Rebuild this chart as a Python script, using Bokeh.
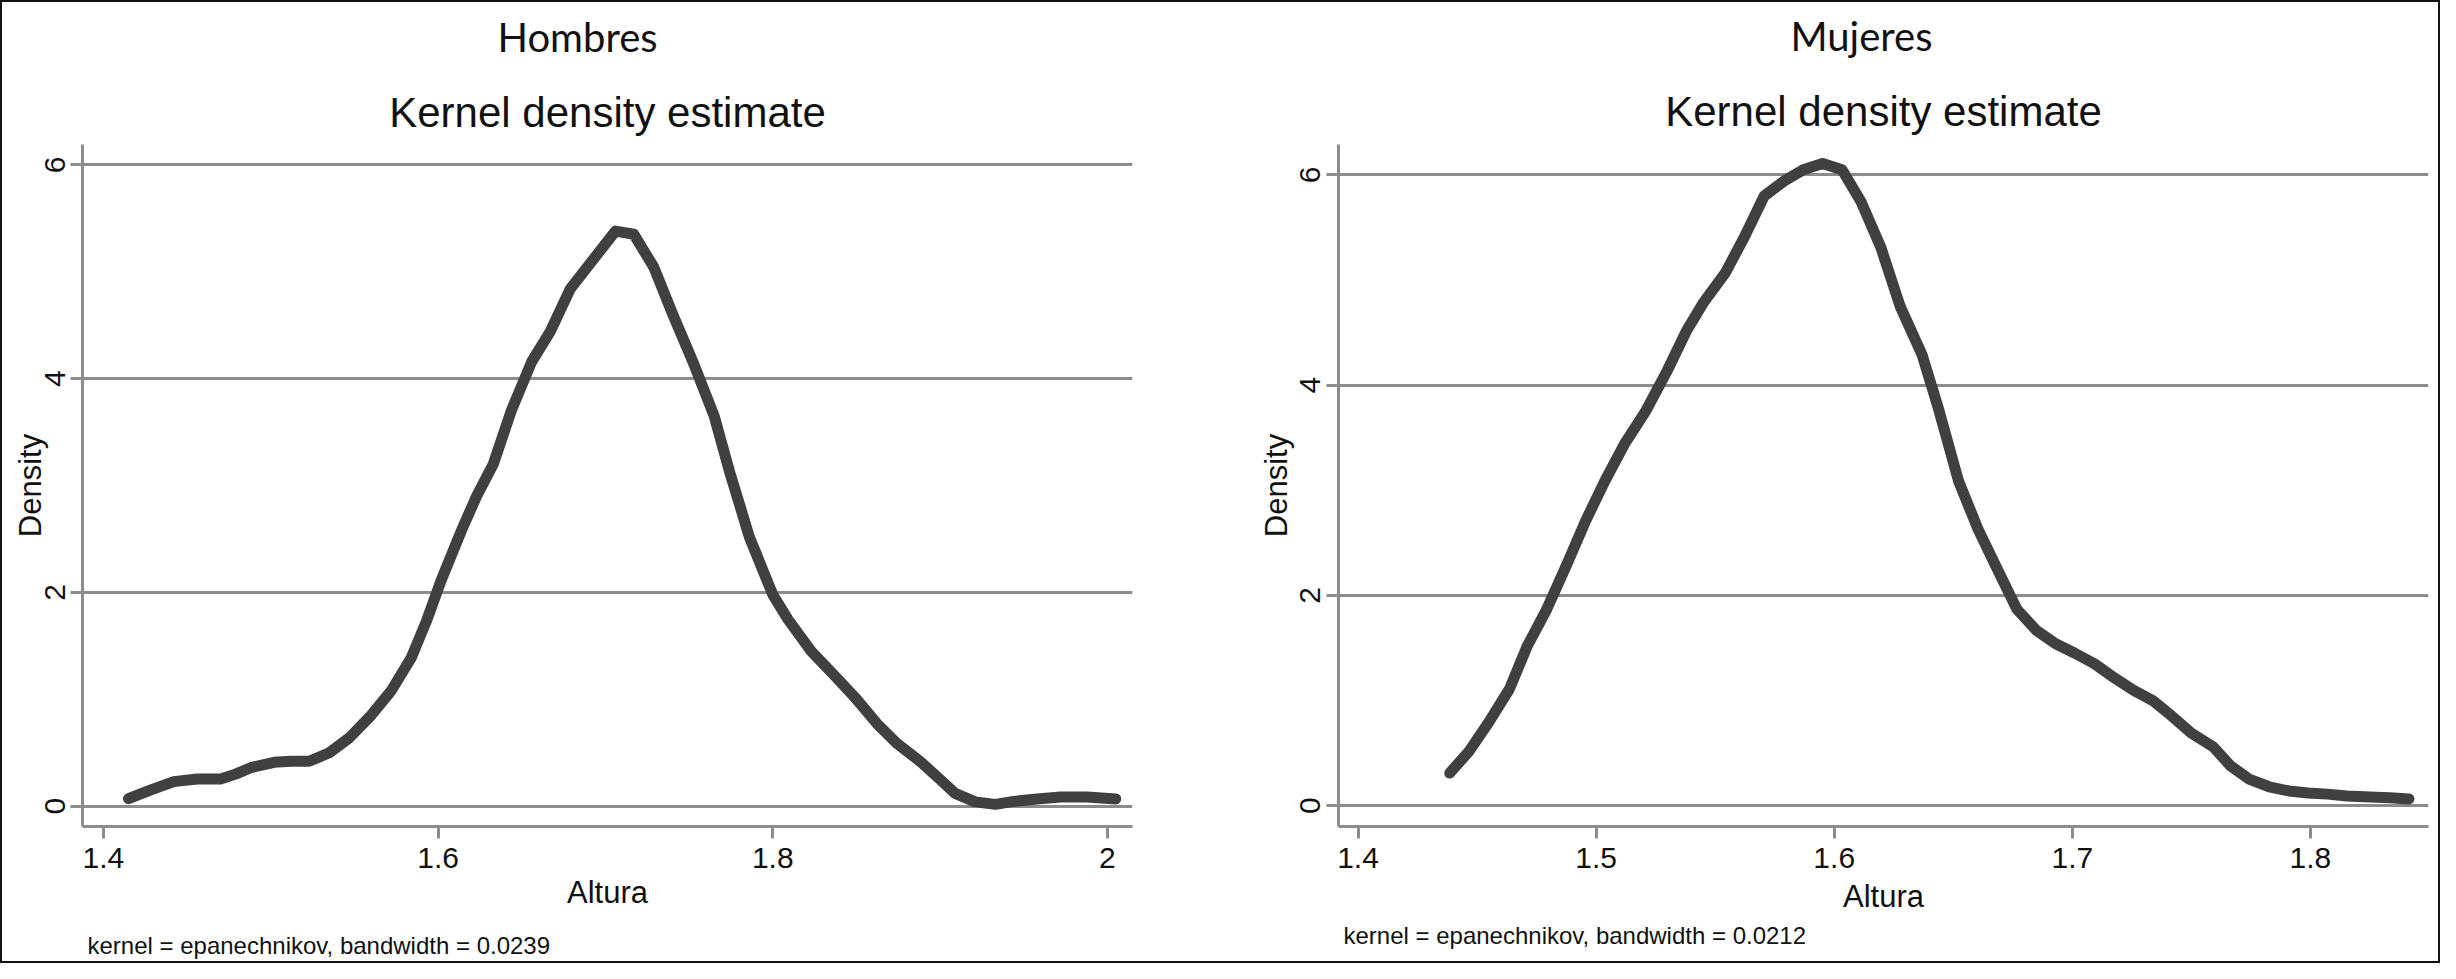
from bokeh.plotting import figure
from bokeh.models import FixedTicker, Title, Range1d
from bokeh.layouts import row
from bokeh.embed import file_html
from bokeh.resources import INLINE

# ---------------- data ----------------
hombres_altura = [1.415, 1.428, 1.442, 1.456, 1.470, 1.479, 1.488, 1.502, 1.512, 1.523,
                  1.535, 1.547, 1.560, 1.572, 1.584, 1.593, 1.602, 1.614, 1.623, 1.633,
                  1.644, 1.656, 1.667, 1.679, 1.693, 1.706, 1.717, 1.729, 1.740, 1.753,
                  1.765, 1.774, 1.786, 1.800, 1.809, 1.823, 1.837, 1.849, 1.863, 1.874,
                  1.888, 1.900, 1.909, 1.921, 1.933, 1.944, 1.958, 1.972, 1.988, 2.005]
hombres_density = [0.07, 0.15, 0.23, 0.255, 0.255, 0.30, 0.36, 0.41, 0.42, 0.42,
                   0.50, 0.64, 0.85, 1.08, 1.39, 1.73, 2.12, 2.58, 2.90, 3.20,
                   3.71, 4.16, 4.44, 4.84, 5.12, 5.38, 5.35, 5.04, 4.61, 4.13,
                   3.65, 3.14, 2.52, 1.98, 1.75, 1.45, 1.22, 1.02, 0.76, 0.59,
                   0.42, 0.25, 0.12, 0.04, 0.017, 0.045, 0.068, 0.085, 0.085, 0.068]

mujeres_altura = [1.4385, 1.4467, 1.4548, 1.4636, 1.4711, 1.4793, 1.4874, 1.4956, 1.5037, 1.5119,
                  1.5210, 1.5299, 1.5380, 1.5452, 1.5543, 1.5625, 1.5706, 1.5788, 1.5870, 1.5951,
                  1.6033, 1.6114, 1.6196, 1.6277, 1.6369, 1.6440, 1.6522, 1.6604, 1.6685, 1.6767,
                  1.6848, 1.6930, 1.7011, 1.7093, 1.7174, 1.7256, 1.7338, 1.7419, 1.7500, 1.7592,
                  1.7664, 1.7745, 1.7827, 1.7909, 1.7990, 1.8072, 1.8153, 1.8251, 1.8333, 1.8414]
mujeres_density = [0.31, 0.52, 0.79, 1.11, 1.52, 1.87, 2.28, 2.71, 3.09, 3.44,
                   3.76, 4.14, 4.52, 4.79, 5.07, 5.42, 5.80, 5.94, 6.05, 6.11,
                   6.05, 5.74, 5.31, 4.75, 4.29, 3.76, 3.09, 2.63, 2.25, 1.87,
                   1.67, 1.54, 1.45, 1.35, 1.22, 1.10, 1.00, 0.85, 0.69, 0.56,
                   0.38, 0.25, 0.18, 0.14, 0.12, 0.11, 0.093, 0.082, 0.076, 0.064]

y_ticks = [0, 2, 4, 6]
y_labels = ["0", "2", "4", "6"]
hombres_x_ticks = [1.4, 1.6, 1.8, 2.0]
hombres_x_labels = ["1.4", "1.6", "1.8", "2"]
mujeres_x_ticks = [1.4, 1.5, 1.6, 1.7, 1.8]
mujeres_x_labels = ["1.4", "1.5", "1.6", "1.7", "1.8"]

panel_titles = ["Hombres", "Mujeres"]
chart_title = "Kernel density estimate"
x_label = "Altura"
y_label = "Density"
notes = ["kernel = epanechnikov, bandwidth = 0.0239",
         "kernel = epanechnikov, bandwidth = 0.0212"]

# ---------------- styling ----------------
FONT = "Liberation Sans"
TITLE_FONT = "Lato"
GRID = "#8c8c8c"
LINE = "#404040"
INK = "#111111"
W, H = 1218, 959


def spacer(standoff):
    # blank title used only as vertical space in a side panel
    return Title(text=" ", text_color="white", text_font=FONT, text_font_size="1px",
                 text_font_style="normal", standoff=standoff)


def make_panel(xs, ys, xticks, xlabels, xr, yr, ptitle, note, borders, cfg):
    bl, br, bt, bb = borders
    p = figure(width=W, height=H, output_backend="svg", toolbar_location=None,
               title=None, x_range=Range1d(*xr), y_range=Range1d(*yr),
               min_border_left=bl, min_border_right=br,
               min_border_top=bt, min_border_bottom=bb)
    p.outline_line_color = None
    p.background_fill_color = "white"
    p.border_fill_color = "white"

    p.line(xs, ys, line_width=11, line_color=LINE, line_cap="round", line_join="round")

    p.xgrid.visible = False
    p.ygrid.ticker = FixedTicker(ticks=y_ticks)
    p.ygrid.grid_line_color = GRID
    p.ygrid.grid_line_width = 3

    xa = p.xaxis[0]
    xa.ticker = FixedTicker(ticks=xticks)
    xa.major_label_overrides = dict(zip(xticks, xlabels))
    ya = p.yaxis[0]
    ya.ticker = FixedTicker(ticks=y_ticks)
    ya.major_label_overrides = dict(zip(y_ticks, y_labels))
    ya.major_label_orientation = "vertical"

    for ax, lab in ((xa, x_label), (ya, y_label)):
        ax.axis_label = lab
        ax.axis_label_text_font = FONT
        ax.axis_label_text_font_size = "31px"
        ax.axis_label_text_font_style = "normal"
        ax.axis_label_text_color = INK
        ax.major_label_text_font = FONT
        ax.major_label_text_font_size = "30px"
        ax.major_label_text_color = INK
        ax.axis_line_color = GRID
        ax.axis_line_width = 3
        ax.major_tick_line_color = GRID
        ax.major_tick_line_width = 3
        ax.major_tick_out = 12
        ax.major_tick_in = 0
        ax.minor_tick_line_color = None
    xa.major_label_standoff = 9
    xa.axis_label_standoff = cfg["x_label_standoff"]
    ya.major_label_standoff = cfg["y_tick_standoff"]
    ya.axis_label_standoff = cfg["y_label_standoff"]

    # above: listed from the frame outward
    p.add_layout(Title(text=chart_title, align="center", text_font=FONT,
                       text_font_size="42px", text_font_style="normal",
                       text_color=INK, standoff=cfg["title_standoff"]), "above")
    p.add_layout(spacer(cfg["top_gap"]), "above")
    p.add_layout(Title(text=ptitle, align="left", offset=cfg["ptitle_offset"], text_font=TITLE_FONT,
                       text_font_size="40px", text_font_style="normal",
                       text_color=INK, standoff=0), "above")
    # below: after the x axis, from the frame outward
    p.add_layout(spacer(cfg["bottom_gap"]), "below")
    p.add_layout(Title(text=note, align="left", offset=5, text_font=FONT,
                       text_font_size="24px", text_font_style="normal",
                       text_color=INK, standoff=0), "below")
    return p


p1 = make_panel(hombres_altura, hombres_density, hombres_x_ticks, hombres_x_labels,
                (1.3875, 2.015), (-0.19, 6.19), panel_titles[0], notes[0],
                (80, 88, 142, 127),
                dict(x_label_standoff=4, y_tick_standoff=5, y_label_standoff=-5,
                     title_standoff=18, top_gap=14, ptitle_offset=415,
                     bottom_gap=14))
p2 = make_panel(mujeres_altura, mujeres_density, mujeres_x_ticks, mujeres_x_labels,
                (1.3918, 1.8496), (-0.198, 6.29), panel_titles[1], notes[1],
                (118, 10, 141, 135),
                dict(x_label_standoff=8, y_tick_standoff=6, y_label_standoff=4,
                     title_standoff=20, top_gap=13, ptitle_offset=452,
                     bottom_gap=0))

layout = row(p1, p2, styles={"border": "2px solid #111111"})

open("out.html", "w").write(file_html(layout, INLINE))
